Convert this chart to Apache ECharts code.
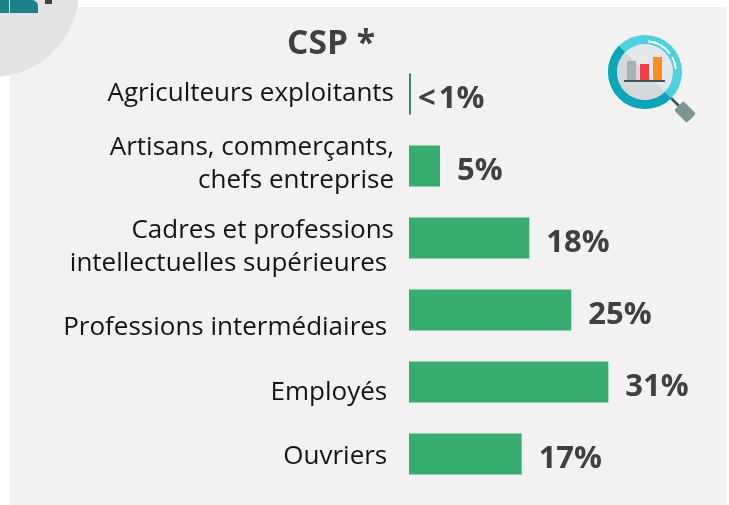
<!DOCTYPE html>
<html><head><meta charset="utf-8">
<style>html,body{margin:0;padding:0;background:#fff}#c{width:729px;height:505px}</style>
<script src="https://cdn.jsdelivr.net/npm/echarts@6/dist/echarts.min.js"></script>
</head><body><div id="c"></div>
<script>
const categories = [
  "Agriculteurs exploitants",
  "Artisans, commerçants,\nchefs entreprise",
  "Cadres et professions\nintellectuelles supérieures\u00a0",
  "Professions intermédiaires\u00a0",
  "Employés\u00a0",
  "Ouvriers\u00a0"
];
const values = [0.3, 4.85, 18.8, 25.35, 31.15, 17.6];
const valueLabels = ["<\u200a1%", "5%", "18%", "25%", "31%", "17%"];
const labelShift = [0, -2, 9, 18, 11, 3];

const chart = echarts.init(document.getElementById('c'), null, {renderer:'canvas'});
const font = '"Open Sans", sans-serif';
const labelStyle = {fontFamily:font,fontSize:26,lineHeight:33,color:'#141414',align:'right'};
const rich = {plain:{...labelStyle}};
labelShift.forEach((s,i)=>{
  rich['r'+i] = {...labelStyle, lineHeight:33+2*Math.abs(s),
    padding: s>=0 ? [2*s,0,0,0] : [0,0,-2*s,0]};
});
chart.setOption({
  animation:false,
  backgroundColor:'#fff',
  title:{text:'CSP *',left:326,top:22,textAlign:'center',
    textStyle:{fontFamily:font,fontSize:33.5,fontWeight:700,color:'#404040'}},
  grid:{left:409,top:58,width:320,height:432},
  xAxis:{type:'value',min:0,max:50,show:false},
  yAxis:{type:'category',inverse:true,data:categories,
    axisLine:{show:false},axisTick:{show:false},
    axisLabel:{margin:15,...labelStyle,rich,
      formatter:(v,i)=>{
        const lines=v.split('\n');
        return lines.length===1 ? `{r${i}|${v}}`
          : (labelShift[i]>=0 ? `{r${i}|${lines[0]}}\n{plain|${lines[1]}}` : `{plain|${lines[0]}}\n{r${i}|${lines[1]}}`);
      }}},
  series:[{type:'bar',barWidth:41,
    data:values.map((v,i)=>({value:v,
      itemStyle:{color:i===0?'#2a8a5c':'#36ac6e'},
      label:{distance:i===0?7:17}})),
    label:{show:true,position:'right',offset:[0,5],
      formatter:p=>valueLabels[p.dataIndex],
      fontFamily:font,fontSize:31,fontWeight:700,color:'#404040'}}],
  graphic:[
    {type:'rect',z:-10,shape:{x:10,y:7,width:717,height:498},style:{fill:'#f2f2f2'}},
    {type:'circle',z:-9,shape:{cx:-8,cy:-10,r:87},style:{fill:'#e3e3e3'}},
    {type:'rect',z:-8,shape:{x:0,y:0,width:38,height:13,r:[0,6,0,0]},style:{fill:'#1f7f88'}},
    {type:'rect',z:-8,shape:{x:9,y:0,width:1,height:13},style:{fill:'#cfe5e7'}},
    {type:'rect',z:-8,shape:{x:45,y:0,width:7,height:4},style:{fill:'#404040'}},
    // magnifier icon
    {type:'line',z:-7,shape:{x1:670,y1:97,x2:680,y2:107},style:{stroke:'#3d5560',lineWidth:2.5}},
    {type:'rect',z:-7,rotation:-Math.PI/4,originX:685,originY:112,
      shape:{x:676,y:105.5,width:18,height:13,r:2},style:{fill:'#7d9494'}},
    {type:'circle',z:-7,shape:{cx:645,cy:72,r:37},style:{fill:'#4fd0dd'}},
    {type:'sector',z:-7,shape:{cx:645,cy:72,r:37,r0:0,startAngle:Math.PI/4,endAngle:Math.PI*5/4},style:{fill:'#0ea5b9'}},
    {type:'circle',z:-7,shape:{cx:645,cy:72,r:28},style:{fill:'#e4e8ea'}},
    {type:'sector',z:-7,shape:{cx:645,cy:72,r:28,startAngle:Math.PI/4,endAngle:Math.PI*5/4},style:{fill:'#d3d8da'}},
    {type:'rect',z:-6,shape:{x:627,y:61,width:9,height:20},style:{fill:'#a7b3b2'}},
    {type:'rect',z:-6,shape:{x:640,y:64,width:9,height:17},style:{fill:'#f23c46'}},
    {type:'rect',z:-6,shape:{x:653,y:57,width:9,height:24},style:{fill:'#fb8d24'}},
    {type:'rect',z:-6,shape:{x:624,y:80,width:41,height:2},style:{fill:'#3e5560'}},
    {type:'arc',z:-6,shape:{cx:645,cy:72,r:31,startAngle:-Math.PI*0.47,endAngle:-Math.PI*0.2},style:{stroke:'#fff',lineWidth:2,fill:'none'}},
    {type:'arc',z:-6,shape:{cx:645,cy:72,r:31,startAngle:-Math.PI*0.16,endAngle:-Math.PI*0.03},style:{stroke:'#fff',lineWidth:2,fill:'none'}}
  ]
});
</script></body></html>
